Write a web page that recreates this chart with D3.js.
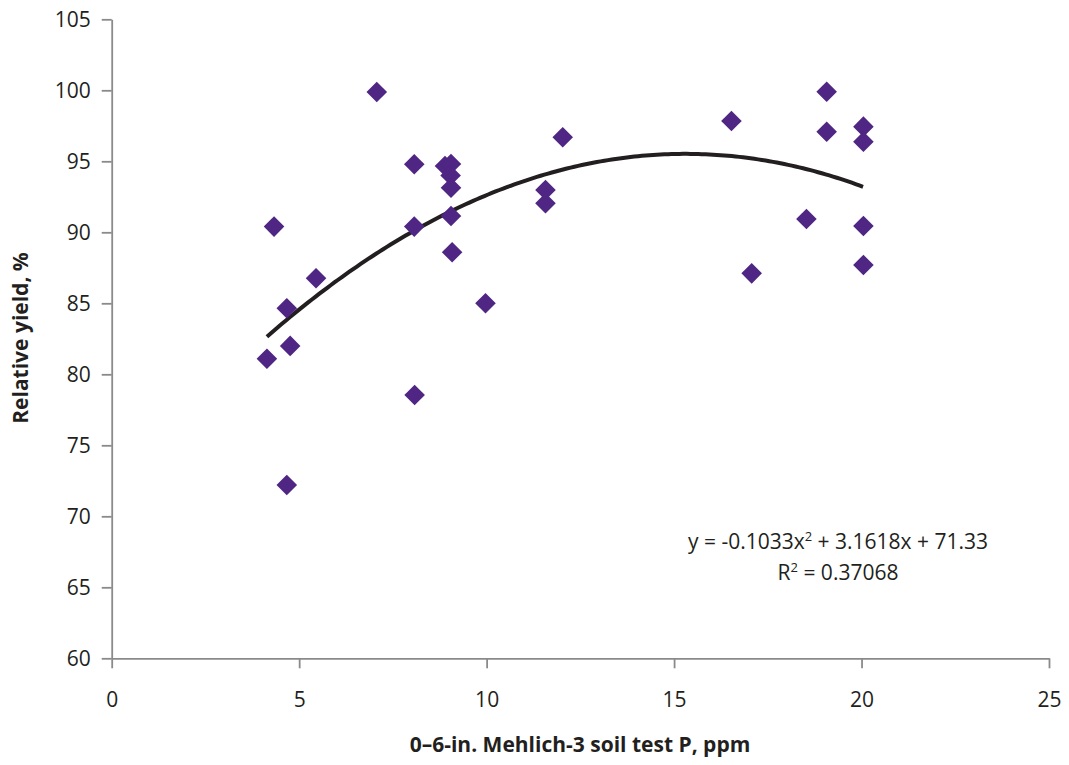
<!DOCTYPE html>
<html>
<head>
<meta charset="utf-8">
<script src="https://cdn.jsdelivr.net/npm/d3@7"></script>
<style>
  html, body { margin: 0; padding: 0; background: #fff; }
  svg text { font-family: "Open Sans", "Noto Sans", sans-serif; fill: #231f20; }
</style>
</head>
<body>
<svg id="chart" width="1069" height="765"></svg>
<script>
// Data
const soilP = [4.14, 4.33, 4.67, 4.76, 4.67, 5.45, 7.07, 8.07, 8.07, 8.08,
               8.89, 9.05, 9.04, 9.05, 9.05, 9.08, 9.97, 11.57, 11.57, 12.03,
               16.53, 17.07, 18.53, 19.07, 19.07, 20.05, 20.05, 20.05, 20.05];
const relYield = [81.1, 90.4, 84.65, 82.0, 72.2, 86.76, 99.88, 94.79, 90.4, 78.54,
                  94.67, 94.81, 94.0, 93.14, 91.15, 88.6, 85.0, 92.98, 92.04, 96.69,
                  97.84, 87.11, 90.94, 99.9, 97.08, 97.44, 96.38, 90.44, 87.7];
const trendCoef = [-0.1033, 3.1618, 71.33];   // a, b, c of the displayed fit
const xTicks = [0, 5, 10, 15, 20, 25];
const yTicks = [60, 65, 70, 75, 80, 85, 90, 95, 100, 105];
const equationLines = ["y = -0.1033x", "2", " + 3.1618x + 71.33"];
const r2Text = "0.37068";
const xTitle = "0\u20136-in. Mehlich-3 soil test P, ppm";
const yTitle = "Relative yield, %";

const svg = d3.select("#chart");
const m = { left: 111.7, top: 19.3, right: 1069 - 1049, bottom: 765 - 658.3 };
const W = 1069 - m.left - m.right, H = 765 - m.top - m.bottom;
const g = svg.append("g").attr("transform", `translate(${m.left},${m.top})`);

const x = d3.scaleLinear().domain([0, 25]).range([0, W]);
const y = d3.scaleLinear().domain([60, 105]).range([H, 0]);

const axisColor = "#8a8a8a";
const gx = g.append("g").attr("transform", `translate(0,${H})`)
  .call(d3.axisBottom(x).tickValues(xTicks).tickSize(10).tickPadding(24).tickSizeOuter(0));
const gy = g.append("g")
  .call(d3.axisLeft(y).tickValues(yTicks).tickSize(10).tickPadding(11).tickSizeOuter(0));
[gx, gy].forEach(a => {
  a.select(".domain").attr("stroke", axisColor).attr("stroke-width", 1.8);
  a.selectAll(".tick line").attr("stroke", axisColor).attr("stroke-width", 1.8);
  a.selectAll(".tick text").attr("font-size", 21).attr("fill", "#231f20")
    .style("font-family", '"Open Sans", sans-serif');
});

// Trend line
const xs = d3.range(d3.min(soilP), d3.max(soilP) + 0.001, 0.1);
const f = v => trendCoef[0] * v * v + trendCoef[1] * v + trendCoef[2];
g.append("path")
  .datum(xs)
  .attr("fill", "none")
  .attr("stroke", "#231f20")
  .attr("stroke-width", 4)
  .attr("d", d3.line().x(d => x(d)).y(d => y(f(d))));

// Points (diamonds)
const diamond = d3.symbol().type(d3.symbolDiamond2).size(270);
g.selectAll("path.pt")
  .data(soilP.map((v, i) => [v, relYield[i]]))
  .join("path")
  .attr("class", "pt")
  .attr("transform", d => `translate(${x(d[0])},${y(d[1])})`)
  .attr("d", diamond)
  .attr("fill", "#4f2683");

// Equation
const eq = svg.append("text").attr("x", 838).attr("y", 549).attr("text-anchor", "middle").attr("font-size", 21);
eq.append("tspan").text(equationLines[0]);
eq.append("tspan").attr("dy", -8).attr("font-size", 13).text(equationLines[1]);
eq.append("tspan").attr("dy", 8).text(equationLines[2]);
const r2 = svg.append("text").attr("x", 838).attr("y", 580).attr("text-anchor", "middle").attr("font-size", 21);
r2.append("tspan").text("R");
r2.append("tspan").attr("dy", -8).attr("font-size", 13).text("2");
r2.append("tspan").attr("dy", 8).text(" = " + r2Text);

// Axis titles
svg.append("text").attr("x", 580).attr("y", 752).attr("text-anchor", "middle")
  .attr("font-size", 21).attr("font-weight", "bold").text(xTitle);
svg.append("text").attr("transform", "translate(28,338) rotate(-90)").attr("text-anchor", "middle")
  .attr("font-size", 21).attr("font-weight", "bold").text(yTitle);
</script>
</body>
</html>
